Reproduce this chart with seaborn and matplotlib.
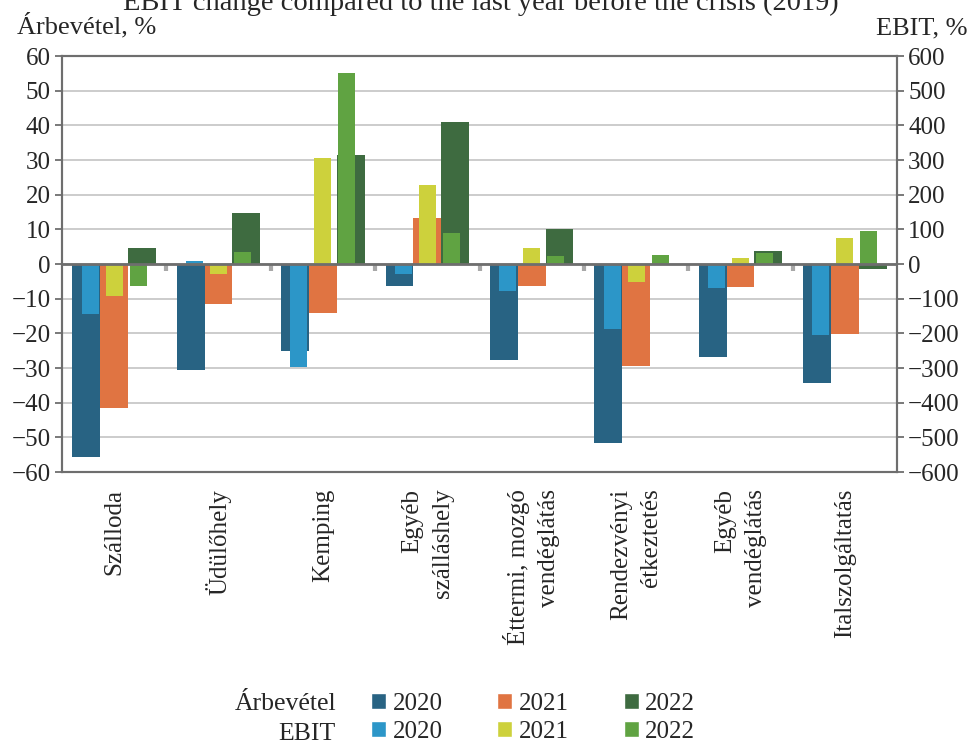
import matplotlib
matplotlib.use("Agg")
import matplotlib.pyplot as plt
from matplotlib.patches import Patch
import numpy as np
import pandas as pd
import seaborn as sns

# categories (x axis)
categories = ["Szálloda", "Üdülőhely", "Kemping", "Egyéb\nszálláshely",
              "Éttermi, mozgó\nvendéglátás", "Rendezvényi\nétkeztetés",
              "Egyéb\nvendéglátás", "Italszolgáltatás"]
years = ["2020", "2021", "2022"]

# Árbevétel, % (left axis)
rev_2020 = [-55.8, -30.5, -25.1, -6.3, -27.7, -51.6, -26.8, -34.3]
rev_2021 = [-41.5, -11.5, -14.1, 13.4, -6.3, -29.4, -6.6, -20.2]
rev_2022 = [4.5, 14.6, 31.3, 41.1, 10.0, -0.3, 3.7, -1.4]

# EBIT, % (right axis)
ebit_2020 = [-144, 8, -297, -29, -78, -187, -69, -205]
ebit_2021 = [-92, -29, 307, 227, 45, -52, 16, 74]
ebit_2022 = [-63, 34, 552, 88, 22, 25, 31, 94]

rev_colors = ["#286383", "#e07442", "#3e6b40"]
ebit_colors = ["#2c96c8", "#cdd13c", "#60a342"]


def long_df(series):
    rows = []
    for yr, vals in zip(years, series):
        for c, v in zip(categories, vals):
            rows.append({"cat": c, "year": yr, "value": v})
    return pd.DataFrame(rows)


rev_df = long_df([rev_2020, rev_2021, rev_2022])
ebit_df = long_df([ebit_2020, ebit_2021, ebit_2022])

sns.set_theme(style="white")
plt.rcParams["font.family"] = ["Liberation Serif", "DejaVu Serif"]
plt.rcParams["font.size"] = 18

fig = plt.figure(figsize=(9.69, 7.45), dpi=100)
ax = fig.add_axes([62 / 969, 1 - 472 / 745, (897 - 62) / 969, (472 - 56) / 745])
ax2 = ax.twinx()

sns.barplot(data=rev_df, x="cat", y="value", hue="year", order=categories,
            hue_order=years, palette=rev_colors, width=0.8, saturation=1,
            errorbar=None, legend=False, ax=ax, zorder=2, linewidth=0)
sns.barplot(data=ebit_df, x="cat", y="value", hue="year", order=categories,
            hue_order=years, palette=ebit_colors, width=0.69, gap=0.29,
            saturation=1, errorbar=None, legend=False, ax=ax2, zorder=2, linewidth=0)

spine_col = "#6e6e6e"
ax.set_xlim(-0.5, len(categories) - 0.5)
ax.set_ylim(-60, 60)
ax2.set_ylim(-600, 600)
ax.set_yticks(np.arange(-60, 61, 10))
ax2.set_yticks(np.arange(-600, 601, 100))
ax.set_xlabel("")
ax.set_ylabel("")
ax2.set_xlabel("")
ax2.set_ylabel("")

ax.yaxis.grid(True, color="#c8c8c8", lw=1.3)
ax.set_axisbelow(True)
for a in (ax, ax2):
    for s in a.spines.values():
        s.set_color(spine_col)
        s.set_linewidth(1.5)

ax.tick_params(axis="y", direction="out", length=5, width=1.3, color=spine_col,
               labelsize=18, pad=3, left=True)
ax2.tick_params(axis="y", direction="out", length=5, width=1.3, color=spine_col,
                labelsize=18, pad=3, right=True)
ax.tick_params(axis="x", length=0, pad=12)
ax.set_xticks(range(len(categories)))
ax.set_xticklabels(categories, rotation=90, fontsize=18, va="top", ha="center",
                   multialignment="right", linespacing=1.5)

# category separators at the zero line
ax.vlines(np.arange(0.5, len(categories) - 1), -1.9, 0, colors="#a8a8a8", lw=3, zorder=1)
ax2.axhline(0, color=spine_col, lw=2, zorder=5)

# title (clipped at the top like the original) and axis titles
fig.text(481 / 969, 1 - 10 / 745, "EBIT change compared to the last year before the crisis (2019)",
         ha="center", va="baseline", fontsize=20.5)
fig.text(17 / 969, 1 - 33 / 745, "Árbevétel, %", ha="left", va="baseline", fontsize=19)
fig.text(967 / 969, 1 - 34 / 745, "EBIT, %", ha="right", va="baseline", fontsize=19)

# legend
handles = []
labels = []
for rc, ec, yr in zip(rev_colors, ebit_colors, years):
    handles += [Patch(facecolor=rc), Patch(facecolor=ec)]
    labels += [yr, yr]
fig.legend(handles, labels, ncol=3, loc="center", bbox_to_anchor=(533 / 969, 1 - 718 / 745),
           frameon=False, fontsize=18, handlelength=0.6, handleheight=0.6,
           handletextpad=0.25, columnspacing=2.2, labelspacing=0.25, borderpad=0)
fig.text(336 / 969, 1 - 704 / 745, "Árbevétel", ha="right", va="center", fontsize=18.5)
fig.text(336 / 969, 1 - 734 / 745, "EBIT", ha="right", va="center", fontsize=18.5)

fig.savefig("out.png", dpi=100)
